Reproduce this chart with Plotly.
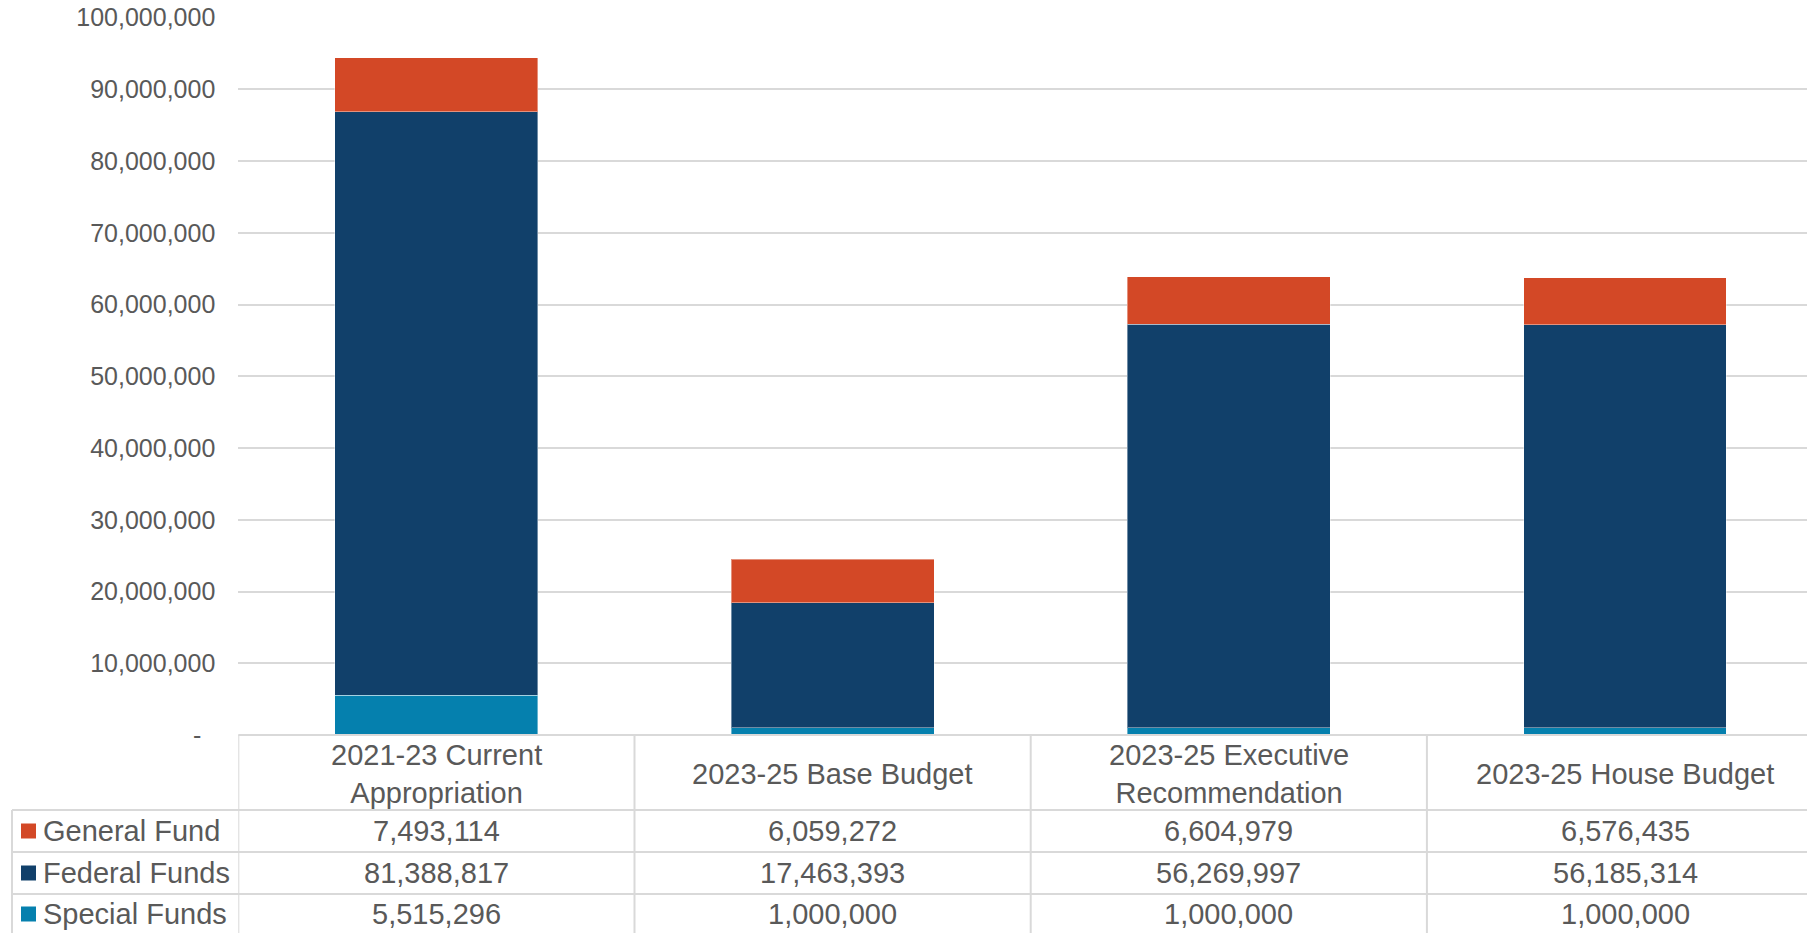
import plotly.graph_objects as go

# ---- data ----
categories = ["2021-23 Current Appropriation", "2023-25 Base Budget",
              "2023-25 Executive Recommendation", "2023-25 House Budget"]
header_labels = ["2021-23 Current<br>Appropriation", "2023-25 Base Budget",
                 "2023-25 Executive<br>Recommendation", "2023-25 House Budget"]
general_fund = [7493114, 6059272, 6604979, 6576435]
federal_funds = [81388817, 17463393, 56269997, 56185314]
special_funds = [5515296, 1000000, 1000000, 1000000]
series_names = ["General Fund", "Federal Funds", "Special Funds"]
y_tick_vals = [0, 10000000, 20000000, 30000000, 40000000, 50000000,
               60000000, 70000000, 80000000, 90000000, 100000000]

# ---- style ----
W, H = 1807, 933
COL_GEN = "#D34826"
COL_FED = "#11406A"
COL_SPEC = "#0580AE"
TXT = "#595959"
GRID = "#D9D9D9"
FONT = "Liberation Sans, Arial, sans-serif"
TABLE_FS = 29.0
AXIS_FS = 25

plot_left = 238.3
cat_px = 396.2
zero_px = 735.0
top_px = 17.7
row_lines = [810.0, 852.0, 894.0, 936.0]

def px_x(p):
    return p / W

def px_y(p):
    return 1 - p / H

x_max = -0.5 + (W - plot_left) / cat_px

fig = go.Figure()
series = [("Special Funds", special_funds, COL_SPEC),
          ("Federal Funds", federal_funds, COL_FED),
          ("General Fund", general_fund, COL_GEN)]
for name, vals, col in series:
    fig.add_trace(go.Bar(
        x=list(range(len(categories))), y=vals, name=name,
        marker=dict(color=col, line=dict(color="rgba(255,255,255,0.4)", width=1)),
        width=0.512, showlegend=False,
    ))

ticktext = ["-\u00a0\u00a0"] + [f"{v:,}" for v in y_tick_vals[1:]]

fig.update_layout(
    width=W, height=H,
    margin=dict(l=0, r=0, t=0, b=0),
    paper_bgcolor="white", plot_bgcolor="white",
    barmode="stack",
    font=dict(family=FONT, color=TXT),
    xaxis=dict(domain=[px_x(plot_left), 1], range=[-0.5, x_max],
               showticklabels=False, showgrid=False, zeroline=False,
               showline=False, fixedrange=True),
    yaxis=dict(domain=[px_y(zero_px), px_y(top_px)], range=[0, 100000000],
               tickvals=y_tick_vals, ticktext=ticktext,
               tickfont=dict(size=AXIS_FS, color=TXT, family=FONT),
               showgrid=True, gridcolor=GRID, gridwidth=2,
               zeroline=False, showline=False, ticks="",
               ticklabelstandoff=22, automargin=False),
)

shapes = []
line_style = dict(color=GRID, width=2)
shapes.append(dict(type="line", xref="paper", yref="paper",
                   x0=px_x(plot_left), x1=1, y0=px_y(zero_px), y1=px_y(zero_px),
                   line=line_style))
for ry in row_lines:
    shapes.append(dict(type="line", xref="paper", yref="paper",
                       x0=px_x(12), x1=1, y0=px_y(ry), y1=px_y(ry), line=line_style))
for k in range(len(categories) + 1):
    xv = -0.5 + k
    shapes.append(dict(type="line", xref="x", yref="paper",
                       x0=xv, x1=xv, y0=px_y(zero_px), y1=px_y(940), line=line_style))
shapes.append(dict(type="line", xref="paper", yref="paper",
                   x0=px_x(12), x1=px_x(12), y0=px_y(row_lines[0]), y1=px_y(940),
                   line=line_style))

annotations = []
for i, lab in enumerate(header_labels):
    annotations.append(dict(x=i, xref="x", y=px_y((zero_px + row_lines[0]) / 2 + 1), yref="paper",
                            text=lab, showarrow=False, xanchor="center", yanchor="middle",
                            font=dict(size=TABLE_FS, color=TXT, family=FONT)))

table_rows = [("General Fund", general_fund, COL_GEN),
              ("Federal Funds", federal_funds, COL_FED),
              ("Special Funds", special_funds, COL_SPEC)]
row_centers = [831.0, 873.0, 914.0]
for r, (name, vals, col) in enumerate(table_rows):
    yc = row_centers[r]
    shapes.append(dict(type="rect", xref="paper", yref="paper",
                       x0=px_x(21), x1=px_x(36), y0=px_y(yc - 7.5), y1=px_y(yc + 7.5),
                       fillcolor=col, line=dict(width=0)))
    annotations.append(dict(x=px_x(41), xref="paper", y=px_y(yc), yref="paper",
                            text=name, showarrow=False, xanchor="left", yanchor="middle",
                            font=dict(size=TABLE_FS, color=TXT, family=FONT)))
    for i, v in enumerate(vals):
        annotations.append(dict(x=i, xref="x", y=px_y(yc), yref="paper",
                                text=f"{v:,}", showarrow=False, xanchor="center",
                                yanchor="middle",
                                font=dict(size=TABLE_FS, color=TXT, family=FONT)))

fig.update_layout(shapes=shapes, annotations=annotations)
fig.write_html("out.html", config={"displayModeBar": False},
               post_script="document.body.style.margin='0';")
